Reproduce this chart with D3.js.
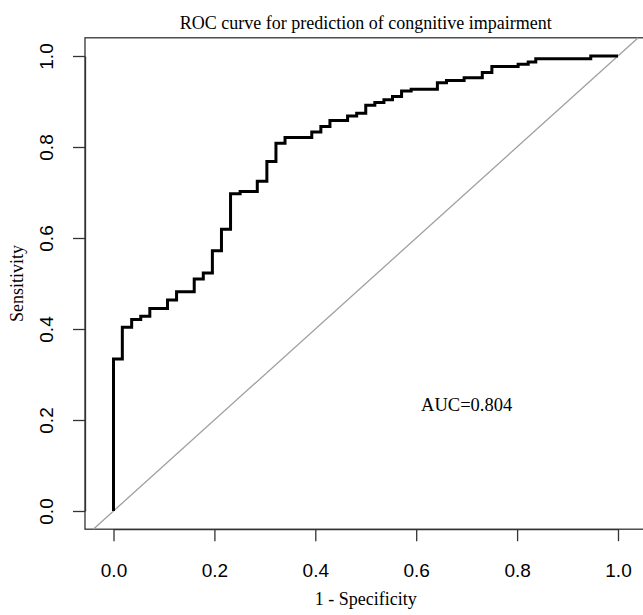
<!DOCTYPE html>
<html>
<head>
<meta charset="utf-8">
<script src="https://cdn.jsdelivr.net/npm/d3@7"></script>
<style>
  body { margin: 0; background: #fff; }
</style>
</head>
<body>
<div id="chart"></div>
<script>
// ROC points (1 - specificity, sensitivity)
const fpr = [0, 0, 0.0175, 0.036, 0.054, 0.072, 0.107, 0.125, 0.160, 0.178, 0.196, 0.214, 0.232, 0.251,
  0.285, 0.304, 0.322, 0.340, 0.393, 0.411, 0.429, 0.464, 0.482, 0.500, 0.518, 0.536, 0.553, 0.571,
  0.590, 0.642, 0.660, 0.695, 0.731, 0.750, 0.786, 0.802, 0.822, 0.837, 0.946, 1.0];
const tpr = [0, 0.334, 0.404, 0.421, 0.428, 0.445, 0.464, 0.482, 0.510, 0.523, 0.572, 0.619, 0.697, 0.702,
  0.725, 0.768, 0.808, 0.821, 0.833, 0.845, 0.858, 0.868, 0.874, 0.892, 0.898, 0.904, 0.911, 0.923,
  0.927, 0.941, 0.946, 0.952, 0.964, 0.977, 0.977, 0.982, 0.987, 0.994, 1.0, 1.0];
const xTicks = [0, 0.2, 0.4, 0.6, 0.8, 1.0];
const yTicks = [0, 0.2, 0.4, 0.6, 0.8, 1.0];
const title = "ROC curve for prediction of congnitive impairment";
const xLabel = "1 - Specificity";
const yLabel = "Sensitivity";
const aucText = "AUC=0.804";

const width = 643, height = 615;
const svg = d3.select("#chart").append("svg")
    .attr("width", width).attr("height", height)
    .style("font-family", "'Liberation Sans', Arial, sans-serif");

const x = d3.scaleLinear().domain([0, 1]).range([113.5, 618]);
const y = d3.scaleLinear().domain([0, 1]).range([511, 56]);

// plot box (x range a bit wider than y, as in the original)
const xMin = -0.0565, xMax = 1.0565, yMin = -0.04, yMax = 1.04;
svg.append("rect")
    .attr("x", x(xMin)).attr("y", y(yMax))
    .attr("width", x(xMax) - x(xMin)).attr("height", y(yMin) - y(yMax))
    .attr("fill", "none").attr("stroke", "#333").attr("stroke-width", 1.3);

// reference diagonal
svg.append("line")
    .attr("x1", x(yMin)).attr("y1", y(yMin))
    .attr("x2", x(yMax)).attr("y2", y(yMax))
    .attr("stroke", "#a0a0a0").attr("stroke-width", 1.3);

// ROC curve
const pts = fpr.map((d, i) => [d, tpr[i]]);
svg.append("path")
    .datum(pts)
    .attr("fill", "none")
    .attr("stroke", "#000")
    .attr("stroke-width", 3)
    .attr("stroke-linejoin", "miter")
    .attr("d", d3.line().x(d => x(d[0])).y(d => y(d[1])).curve(d3.curveStepAfter));

// x axis
const gx = svg.append("g")
    .attr("transform", `translate(0,${y(yMin)})`)
    .call(d3.axisBottom(x).tickValues(xTicks).tickFormat(d3.format(".1f"))
        .tickSize(12).tickSizeOuter(0).tickPadding(22));
gx.selectAll("path, line").attr("stroke", "#333").attr("stroke-width", 1.3);
gx.selectAll("text").attr("font-size", "19px").attr("fill", "#000")
    .style("font-family", "'Liberation Sans', Arial, sans-serif");

// y axis, labels turned like R's default
const gy = svg.append("g")
    .attr("transform", `translate(${x(xMin)},0)`)
    .call(d3.axisLeft(y).tickValues(yTicks).tickFormat(d3.format(".1f"))
        .tickSize(12).tickSizeOuter(0));
gy.selectAll("path, line").attr("stroke", "#333").attr("stroke-width", 1.3);
gy.selectAll("text")
    .attr("x", null).attr("dy", null)
    .attr("text-anchor", "middle")
    .attr("transform", "translate(-32,0) rotate(-90)")
    .attr("font-size", "19px").attr("fill", "#000")
    .style("font-family", "'Liberation Sans', Arial, sans-serif");

const midX = (x(xMin) + x(xMax)) / 2;
const midY = (y(yMin) + y(yMax)) / 2;
const serif = "'Liberation Serif', 'Times New Roman', serif";

svg.append("text")
    .attr("x", midX).attr("y", 29)
    .attr("text-anchor", "middle")
    .style("font-family", serif).attr("font-size", "18px")
    .text(title);

svg.append("text")
    .attr("x", midX).attr("y", 605)
    .attr("text-anchor", "middle")
    .style("font-family", serif).attr("font-size", "18px")
    .text(xLabel);

svg.append("text")
    .attr("transform", `translate(23,${midY}) rotate(-90)`)
    .attr("text-anchor", "middle")
    .style("font-family", serif).attr("font-size", "18px")
    .text(yLabel);

svg.append("text")
    .attr("x", x(0.7)).attr("y", 411)
    .attr("text-anchor", "middle")
    .style("font-family", serif).attr("font-size", "18.5px")
    .text(aucText);
</script>
</body>
</html>
